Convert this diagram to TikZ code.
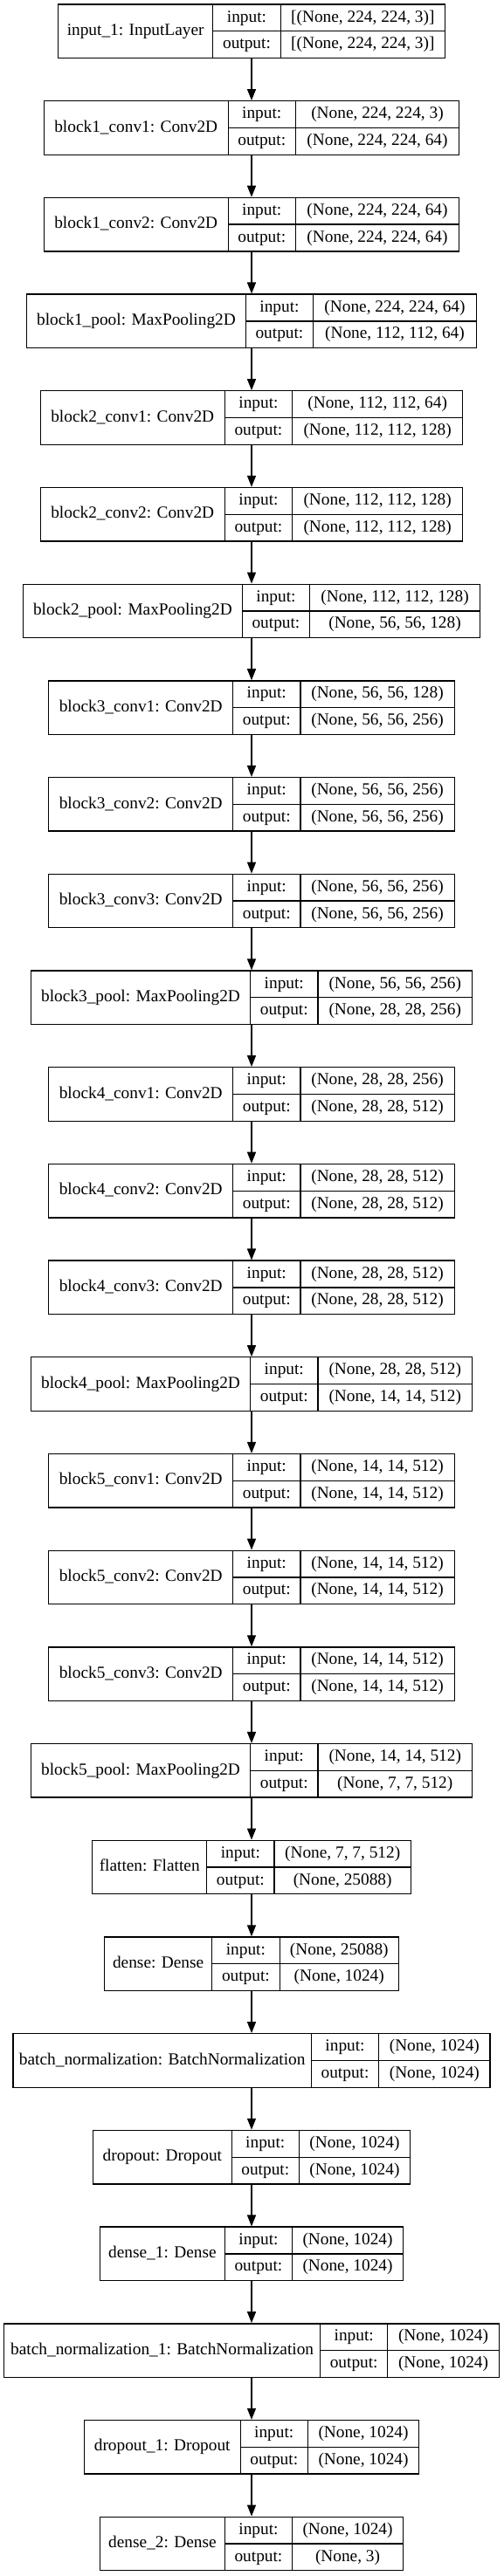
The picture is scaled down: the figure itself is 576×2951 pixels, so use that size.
\documentclass[tikz,border=0pt]{standalone}
\usepackage{fontspec}
\setmainfont{Liberation Serif}
\usetikzlibrary{arrows.meta}

\tikzset{
  recbox/.style={draw, line width=1pt, rectangle, minimum height=46.125pt, inner sep=0pt},
  celltext/.style={font=\fontsize{14.5}{17}\selectfont, inner sep=0pt, text height=10pt, text depth=3pt},
  conn/.style={draw, line width=1pt, -{Triangle[length=9.75pt, width=7.5pt]}},
}

% one layer record: id, row, left x, first divider, second divider, name, input, output
\newcommand{\kerasrec}[8]{%
  \pgfmathsetmacro{\recTop}{5+110.7*#2}%
  \pgfmathsetmacro{\recMid}{\recTop+30.75}%
  \pgfmathsetmacro{\recBot}{\recTop+61.5}%
  \pgfmathsetmacro{\recEnd}{576-#3}%
  % Outer box
  \node[recbox, minimum width={(576-2*#3)*0.75pt}] (#1) at (288,\recMid) {};
  % Dividers
  \draw[line width=1pt] (#4,\recTop) -- (#4,\recBot) (#5,\recTop) -- (#5,\recBot) (#4,\recMid) -- (\recEnd,\recMid);
  % Text Nodes
  \node[celltext] (#1-name) at ({(#3+#4)/2},\recMid) {#6};
  \node[celltext] (#1-li) at ({(#4+#5)/2},{\recTop+15.4}) {input:};
  \node[celltext] (#1-lo) at ({(#4+#5)/2},{\recTop+46.1}) {output:};
  \node[celltext] (#1-vi) at ({(#5+\recEnd)/2},{\recTop+15.4}) {#7};
  \node[celltext] (#1-vo) at ({(#5+\recEnd)/2},{\recTop+46.1}) {#8};
}

\begin{document}
\begin{tikzpicture}[x=0.75pt,y=0.75pt,yscale=-1,xscale=1]
        \path[fill=white, use as bounding box] (0,0) rectangle (576,2951);
        % Block 1
        \kerasrec{inp}{0}{66.5}{243.8}{321.2}{input\_1: InputLayer}{[(None, 224, 224, 3)]}{[(None, 224, 224, 3)]}
        \kerasrec{bAcA}{1}{50.3}{261.2}{338.3}{block1\_conv1: Conv2D}{(None, 224, 224, 3)}{(None, 224, 224, 64)}
        \kerasrec{bAcB}{2}{50.3}{261.2}{338.3}{block1\_conv2: Conv2D}{(None, 224, 224, 64)}{(None, 224, 224, 64)}
        \kerasrec{bAp}{3}{30.5}{281.4}{358.5}{block1\_pool: MaxPooling2D}{(None, 224, 224, 64)}{(None, 112, 112, 64)}
        % Block 2
        \kerasrec{bBcA}{4}{46.3}{257.2}{334.7}{block2\_conv1: Conv2D}{(None, 112, 112, 64)}{(None, 112, 112, 128)}
        \kerasrec{bBcB}{5}{46.3}{257.2}{334.7}{block2\_conv2: Conv2D}{(None, 112, 112, 128)}{(None, 112, 112, 128)}
        \kerasrec{bBp}{6}{26.4}{277.4}{354.5}{block2\_pool: MaxPooling2D}{(None, 112, 112, 128)}{(None, 56, 56, 128)}
        % Block 3
        \kerasrec{bCcA}{7}{55.8}{266.7}{343.9}{block3\_conv1: Conv2D}{(None, 56, 56, 128)}{(None, 56, 56, 256)}
        \kerasrec{bCcB}{8}{55.8}{266.7}{343.9}{block3\_conv2: Conv2D}{(None, 56, 56, 256)}{(None, 56, 56, 256)}
        \kerasrec{bCcC}{9}{55.8}{266.7}{343.9}{block3\_conv3: Conv2D}{(None, 56, 56, 256)}{(None, 56, 56, 256)}
        \kerasrec{bCp}{10}{35.6}{286.5}{364.1}{block3\_pool: MaxPooling2D}{(None, 56, 56, 256)}{(None, 28, 28, 256)}
        % Block 4
        \kerasrec{bDcA}{11}{55.8}{266.7}{343.9}{block4\_conv1: Conv2D}{(None, 28, 28, 256)}{(None, 28, 28, 512)}
        \kerasrec{bDcB}{12}{55.8}{266.7}{343.9}{block4\_conv2: Conv2D}{(None, 28, 28, 512)}{(None, 28, 28, 512)}
        \kerasrec{bDcC}{13}{55.8}{266.7}{343.9}{block4\_conv3: Conv2D}{(None, 28, 28, 512)}{(None, 28, 28, 512)}
        \kerasrec{bDp}{14}{35.6}{286.5}{364.1}{block4\_pool: MaxPooling2D}{(None, 28, 28, 512)}{(None, 14, 14, 512)}
        % Block 5
        \kerasrec{bEcA}{15}{55.8}{266.7}{343.9}{block5\_conv1: Conv2D}{(None, 14, 14, 512)}{(None, 14, 14, 512)}
        \kerasrec{bEcB}{16}{55.8}{266.7}{343.9}{block5\_conv2: Conv2D}{(None, 14, 14, 512)}{(None, 14, 14, 512)}
        \kerasrec{bEcC}{17}{55.8}{266.7}{343.9}{block5\_conv3: Conv2D}{(None, 14, 14, 512)}{(None, 14, 14, 512)}
        \kerasrec{bEp}{18}{35.6}{286.5}{364.1}{block5\_pool: MaxPooling2D}{(None, 14, 14, 512)}{(None, 7, 7, 512)}
        % Head
        \kerasrec{flat}{19}{105.8}{236.6}{314.1}{flatten: Flatten}{(None, 7, 7, 512)}{(None, 25088)}
        \kerasrec{dnsA}{20}{119.8}{242.5}{320.3}{dense: Dense}{(None, 25088)}{(None, 1024)}
        \kerasrec{bnA}{21}{15.1}{356.3}{433.8}{batch\_normalization: BatchNormalization}{(None, 1024)}{(None, 1024)}
        \kerasrec{dropA}{22}{106.5}{265.2}{342.4}{dropout: Dropout}{(None, 1024)}{(None, 1024)}
        \kerasrec{dnsB}{23}{114.6}{257.2}{334.7}{dense\_1: Dense}{(None, 1024)}{(None, 1024)}
        \kerasrec{bnB}{24}{4.7}{366.6}{443.8}{batch\_normalization\_1: BatchNormalization}{(None, 1024)}{(None, 1024)}
        \kerasrec{dropB}{25}{96.2}{275.2}{352.3}{dropout\_1: Dropout}{(None, 1024)}{(None, 1024)}
        \kerasrec{dnsC}{26}{114.6}{257.2}{334.7}{dense\_2: Dense}{(None, 1024)}{(None, 3)}
        % Connections
        \foreach \a/\b in {inp/bAcA, bAcA/bAcB, bAcB/bAp, bAp/bBcA, bBcA/bBcB, bBcB/bBp,
            bBp/bCcA, bCcA/bCcB, bCcB/bCcC, bCcC/bCp, bCp/bDcA, bDcA/bDcB, bDcB/bDcC, bDcC/bDp,
            bDp/bEcA, bEcA/bEcB, bEcB/bEcC, bEcC/bEp, bEp/flat, flat/dnsA, dnsA/bnA, bnA/dropA,
            dropA/dnsB, dnsB/bnB, bnB/dropB, dropB/dnsC}
            \draw[conn] (\a) -- (\b);
    \end{tikzpicture}
\end{document}
